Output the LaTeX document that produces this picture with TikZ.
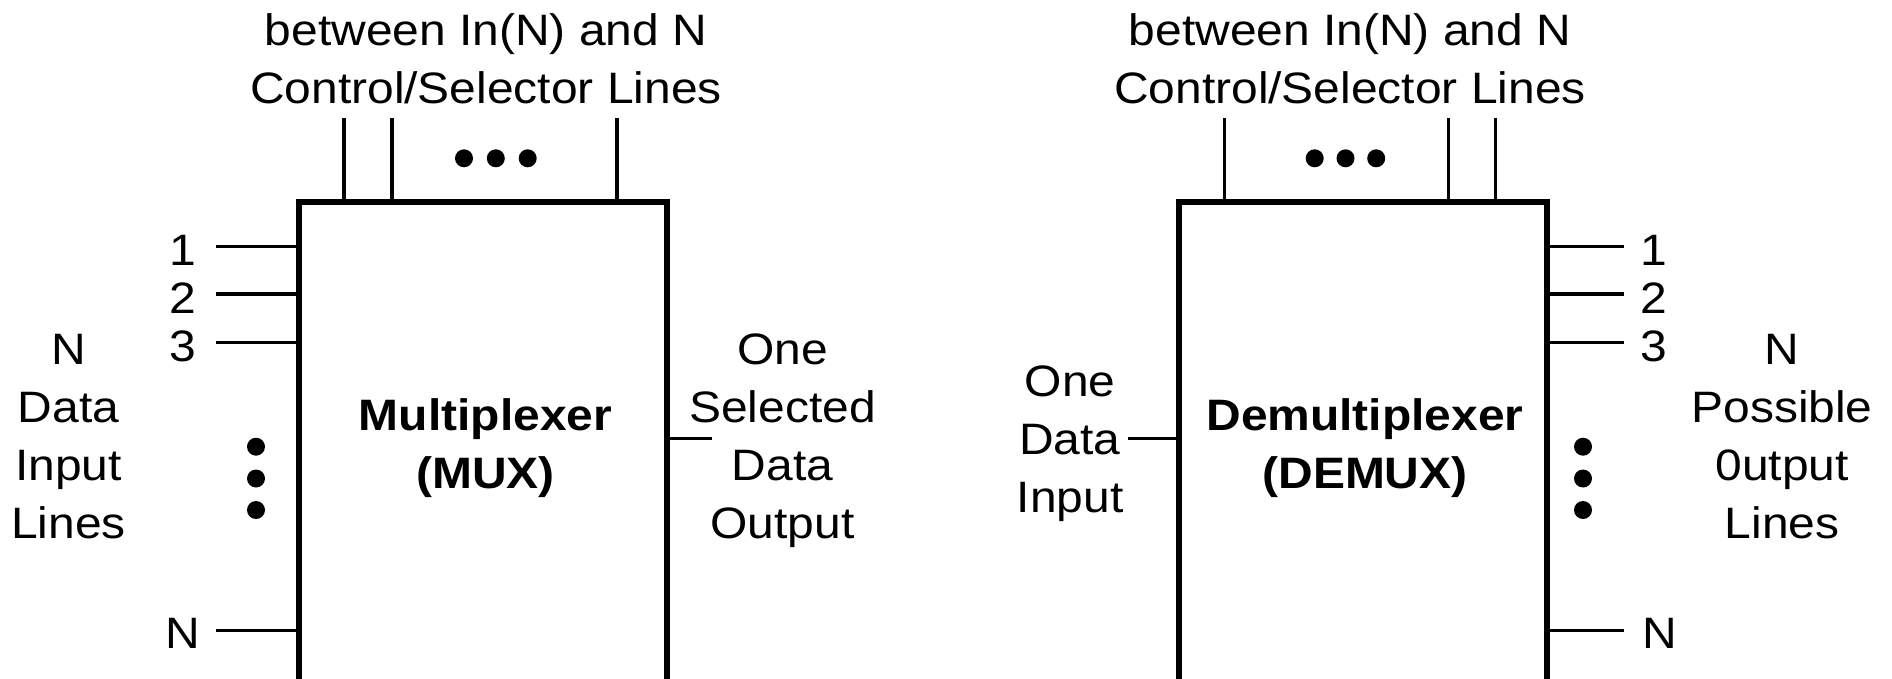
\documentclass[tikz,border=0pt]{standalone}
\usepackage{fontspec}
\setmainfont{Liberation Sans}[FakeStretch=1.09]
\newcommand\mystrut{\rule{0pt}{40pt}}
\begin{document}
\begin{tikzpicture}[x=1pt,y=-1pt,
  txt/.style={font=\fontsize{44}{58}\selectfont, inner sep=0pt, align=center, anchor=north},
  num/.style={font=\fontsize{44}{58}\selectfont, inner sep=0pt, anchor=base},
  blockbox/.style={draw, line width=6pt, inner sep=0pt, anchor=north west, minimum width=367.7pt, minimum height=480pt},
  wire/.style={line width=3.3pt},
  dotnode/.style={circle, fill, inner sep=0pt, minimum size=18pt}]
\useasboundingbox (0,0) rectangle (1892,679);

% ---------------- MUX ----------------
\node[blockbox] (mux) at (296,198.7) {};
\node[txt] (muxname) at (485.5,390.5) {\mystrut\bfseries Multiplexer\\\bfseries (MUX)};
\node[txt] (muxtop) at (486,5.5) {\mystrut between In(N) and N\\Control/Selector Lines};
\node[txt] (muxin) at (68.5,324) {\mystrut N\\Data\\Input\\Lines};
\node[txt] (muxout) at (782.5,324) {\mystrut One\\Selected\\Data\\Output};

\coordinate (mc1) at (344,118);
\coordinate (mc2) at (392,118);
\coordinate (mc3) at (617,118);
\foreach \c in {mc1,mc2,mc3} \draw[wire] (\c) -- (\c |- mux.north);
\node[dotnode] (mh1) at (464,158.3) {};
\node[dotnode] (mh2) at (495.8,158.3) {};
\node[dotnode] (mh3) at (527.7,158.3) {};

\coordinate (mi1) at (215.7,246.7);
\coordinate (mi2) at (215.7,294);
\coordinate (mi3) at (215.7,342.7);
\coordinate (miN) at (215.7,630.5);
\foreach \c in {mi1,mi2,mi3,miN} \draw[wire] (\c) -- (\c -| mux.west);
\node[num] (ml1) at (183,265) {1};
\node[num] (ml2) at (183,313.3) {2};
\node[num] (ml3) at (183,361.7) {3};
\node[num] (mlN) at (183,648.3) {N};
\node[dotnode] (mv1) at (256,446.7) {};
\node[dotnode] (mv2) at (256,478.5) {};
\node[dotnode] (mv3) at (256,510) {};

\coordinate (mo) at (711.7,438.3);
\draw[wire] (mux.east |- mo) -- (mo);

% ---------------- DEMUX ----------------
\node[blockbox] (dmx) at (1176,198.7) {};
\node[txt] (dmxname) at (1365,390.5) {\mystrut\bfseries Demultiplexer\\\bfseries (DEMUX)};
\node[txt] (dmxtop) at (1350,5.5) {\mystrut between In(N) and N\\Control/Selector Lines};
\node[txt] (dmxin) at (1070,356.5) {\mystrut One\\Data\\Input};
\node[txt] (dmxout) at (1782,324) {\mystrut N\\Possible\\0utput\\Lines};

\coordinate (dc1) at (1224.3,118);
\coordinate (dc2) at (1448.6,118);
\coordinate (dc3) at (1495.7,118);
\foreach \c in {dc1,dc2,dc3} \draw[wire] (\c) -- (\c |- dmx.north);
\node[dotnode] (dh1) at (1314.7,158.3) {};
\node[dotnode] (dh2) at (1345.5,158.3) {};
\node[dotnode] (dh3) at (1376.2,158.3) {};

\coordinate (di) at (1128.3,438.3);
\draw[wire] (di) -- (di -| dmx.west);

\coordinate (do1) at (1623.5,246.7);
\coordinate (do2) at (1623.5,294);
\coordinate (do3) at (1623.5,342.7);
\coordinate (doN) at (1623.5,630.5);
\foreach \c in {do1,do2,do3,doN} \draw[wire] (dmx.east |- \c) -- (\c);
\node[num] (dl1) at (1654,265) {1};
\node[num] (dl2) at (1654,313.3) {2};
\node[num] (dl3) at (1654,361.7) {3};
\node[num] (dlN) at (1660,648.3) {N};
\node[dotnode] (dv1) at (1583,446.7) {};
\node[dotnode] (dv2) at (1583,478.5) {};
\node[dotnode] (dv3) at (1583,510) {};
\end{tikzpicture}
\end{document}
